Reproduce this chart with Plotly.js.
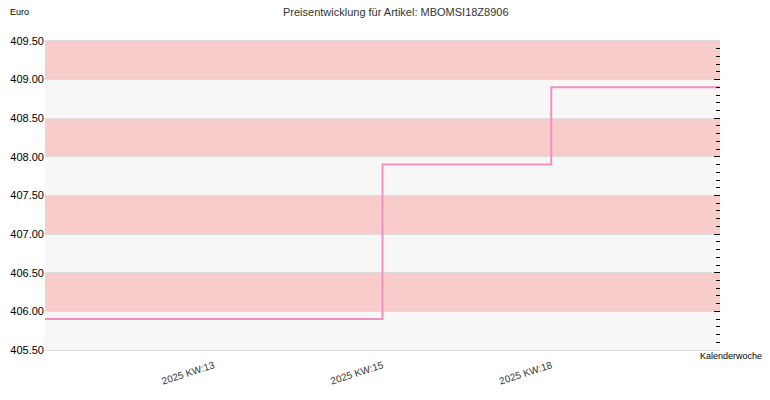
<!DOCTYPE html>
<html>
<head>
<meta charset="utf-8">
<script src="https://cdn.plot.ly/plotly-3.0.1.min.js"></script>
<style>
body{margin:0;padding:0;background:#fff;}
#chart{width:770px;height:400px;}
</style>
</head>
<body>
<div id="chart"></div>
<script>
// Preisentwicklung - Daten
var wochen = ['2025 KW:13', '2025 KW:15', '2025 KW:18'];
var preise = [405.9, 407.9, 408.9];
var yBereich = [405.5, 409.5];
var artikel = 'MBOMSI18Z8906';

function disp_preis(chartname)
{
	var X = [];
	var Y = [];
	var N = wochen.length;
	// Linie läuft bis an den linken und rechten Rand
	X.push(-1); Y.push(preise[0]);
	for (var i = 0; i < N; i++){
		X.push(i);
		Y.push(preise[i]);
	};
	X.push(N); Y.push(preise[N-1]);

	var tickV = [];
	for (var i = 0; i < N; i++){ tickV.push(i) };

	// abwechselnde Bänder (rosa / grau)
	var shapes = [];
	var k = 0;
	for (var v = yBereich[0]; v < yBereich[1] - 0.001; v += 0.5){
		if (k % 2 == 1){
			shapes.push({
				type: 'rect', xref: 'paper', yref: 'y', layer: 'below',
				x0: 0, x1: 1, y0: v, y1: v + 0.5,
				fillcolor: '#f9cccc', line: {width: 0}
			});
		}
		k++;
	}

	PLOTMASTER = document.getElementById(chartname);
	var trace = {
		x: X,
		y: Y,
		type: 'scatter',
		mode: 'lines',
		hoverinfo: 'skip',
		line: {
			shape: 'hv',
			color: '#f48fc4',
			width: 2
		}
	};
	var traceR = {
		x: X,
		y: Y,
		yaxis: 'y2',
		type: 'scatter',
		mode: 'lines',
		hoverinfo: 'skip',
		line: {width: 0, color: 'rgba(0,0,0,0)'},
		showlegend: false
	};

	var layout = {
		width: 770,
		height: 400,
		margin: {l: 45, r: 50, t: 41, b: 50},
		paper_bgcolor: '#ffffff',
		plot_bgcolor: '#f7f7f7',
		showlegend: false,
		font: {family: 'Liberation Sans, Arial, sans-serif', size: 11, color: '#000'},
		title: {
			text: 'Preisentwicklung für Artikel: ' + artikel,
			font: {size: 11, color: '#333'},
			x: 0.514, xref: 'container', xanchor: 'center',
			y: 0.97, yref: 'container', yanchor: 'middle'
		},
		xaxis: {
			range: [-1, N],
			tickvals: tickV,
			ticktext: wochen,
			tickangle: -18,
			ticklabelstandoff: 5,
			showgrid: false,
			zeroline: false,
			ticks: '',
			showline: true,
			linecolor: '#dddddd',
			linewidth: 1,
			mirror: true,
			tickfont: {size: 10, color: '#333'}
		},
		yaxis: {
			range: yBereich,
			dtick: 0.5,
			tickformat: '.2f',
			gridcolor: '#dddddd',
			gridwidth: 1,
			zeroline: false,
			showline: false,
			ticks: '',
			tickfont: {size: 11, color: '#000'}
		},
		yaxis2: {
			overlaying: 'y',
			side: 'right',
			range: yBereich,
			dtick: 0.5,
			showgrid: false,
			zeroline: false,
			showticklabels: false,
			ticks: 'inside',
			ticklen: 6,
			tickcolor: '#000',
			tickwidth: 1,
			minor: {dtick: 0.1, ticks: 'inside', ticklen: 4, tickcolor: '#000', tickwidth: 1, showgrid: false}
		},
		shapes: shapes,
		annotations: [
			{text: 'Euro', xref: 'paper', yref: 'paper', x: -0.0375, y: 1.095,
			 xanchor: 'center', yanchor: 'middle', showarrow: false, font: {size: 9, color: '#000'}},
			{text: 'Kalenderwoche', xref: 'paper', yref: 'paper', x: 1.065, y: -0.019,
			 xanchor: 'right', yanchor: 'middle', showarrow: false, font: {size: 9, color: '#000'}}
		]
	};

	Plotly.newPlot(PLOTMASTER, [trace, traceR], layout, {displayModeBar: false, staticPlot: true});
}
disp_preis('chart');
</script>
</body>
</html>
